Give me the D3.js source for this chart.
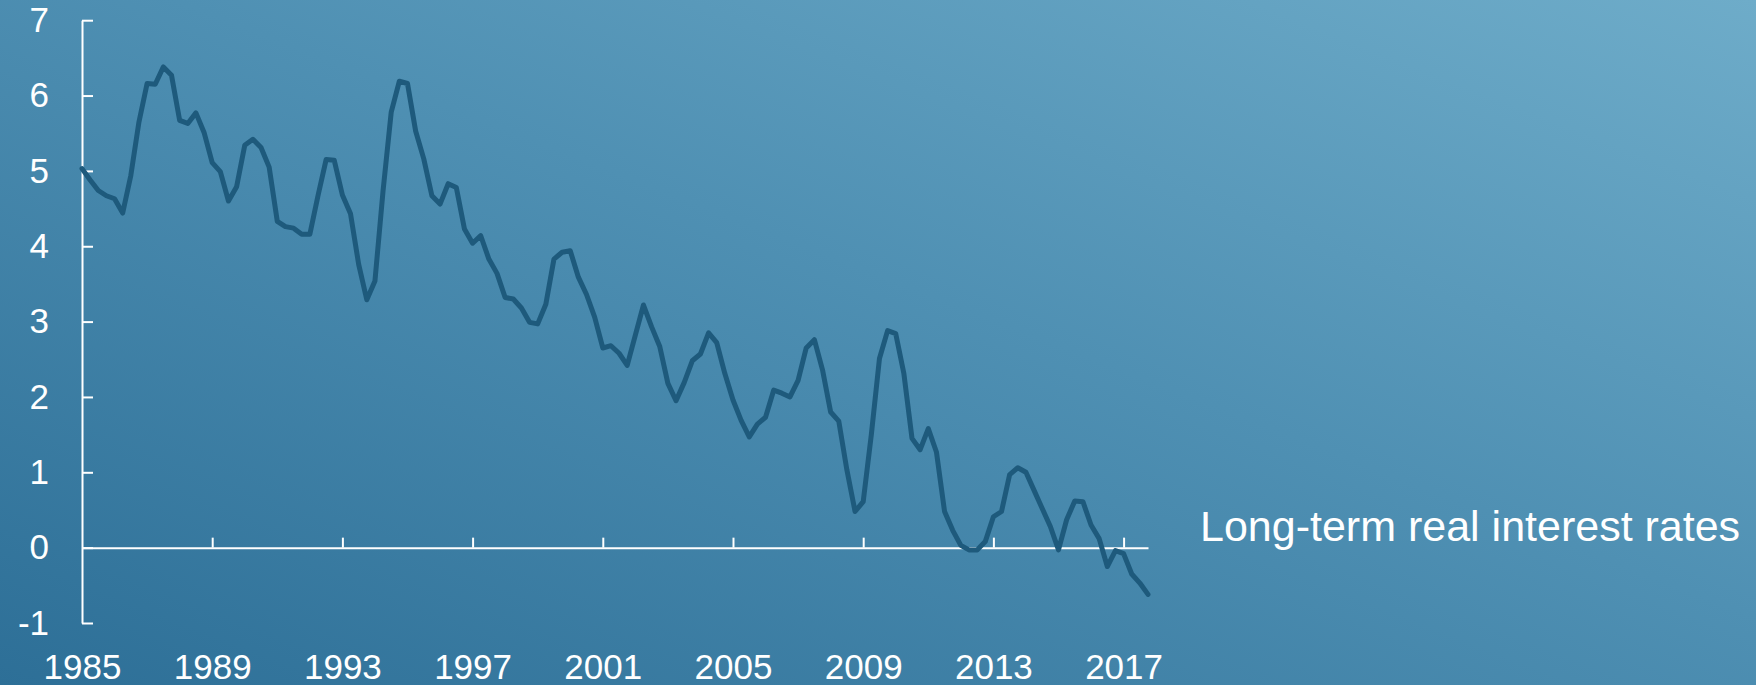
<!DOCTYPE html>
<html>
<head>
<meta charset="utf-8">
<script src="https://cdn.jsdelivr.net/npm/d3@7"></script>
<style>
  html, body { margin: 0; padding: 0; overflow: hidden; }
  svg { display: block; font-family: "Liberation Sans", Arial, sans-serif; }
</style>
</head>
<body>
<svg id="chart" width="1756" height="685"></svg>
<script>
// ---- Data (quarterly, starting 1985 Q1) ----
const startYear = 1985;
const seriesLabel = "Long-term real interest rates";
const rates = [
  5.03, 4.88, 4.74, 4.67, 4.63, 4.44, 4.94, 5.65, 6.16, 6.15, 6.38, 6.27,
  5.67, 5.63, 5.77, 5.51, 5.11, 4.99, 4.60, 4.79, 5.34, 5.42, 5.31, 5.05,
  4.33, 4.26, 4.24, 4.16, 4.16, 4.67, 5.15, 5.14, 4.68, 4.43, 3.76, 3.29,
  3.54, 4.74, 5.78, 6.19, 6.16, 5.53, 5.16, 4.67, 4.56, 4.83, 4.78, 4.23,
  4.04, 4.14, 3.83, 3.64, 3.32, 3.30, 3.18, 2.99, 2.97, 3.23, 3.83, 3.92,
  3.94, 3.59, 3.36, 3.06, 2.65, 2.68, 2.58, 2.42, 2.82, 3.22, 2.93, 2.67,
  2.18, 1.95, 2.19, 2.48, 2.57, 2.85, 2.72, 2.31, 1.96, 1.69, 1.47, 1.64,
  1.73, 2.09, 2.05, 2.00, 2.22, 2.65, 2.76, 2.36, 1.80, 1.68, 1.03, 0.48,
  0.61, 1.50, 2.51, 2.88, 2.84, 2.31, 1.45, 1.30, 1.58, 1.27, 0.48, 0.23,
  0.03, -0.03, -0.03, 0.08, 0.41, 0.48, 0.97, 1.06, 1.00, 0.76, 0.52, 0.28,
  -0.03, 0.37, 0.62, 0.61, 0.30, 0.12, -0.25, -0.04, -0.08, -0.35, -0.47, -0.62
];
const xTickYears = [1985, 1989, 1993, 1997, 2001, 2005, 2009, 2013, 2017];
const yTickValues = [-1, 0, 1, 2, 3, 4, 5, 6, 7];

// ---- Layout ----
const W = 1756, H = 685;
const svg = d3.select("#chart");

// background gradient
const defs = svg.append("defs");
const grad = defs.append("linearGradient")
  .attr("id", "bg")
  .attr("x1", "0").attr("y1", "1")
  .attr("x2", "1").attr("y2", "0");
grad.append("stop").attr("offset", "0%").attr("stop-color", "#2d6f97");
grad.append("stop").attr("offset", "55%").attr("stop-color", "#4f90b3");
grad.append("stop").attr("offset", "100%").attr("stop-color", "#6eacc9");
svg.append("rect").attr("width", W).attr("height", H).attr("fill", "url(#bg)");

const points = rates.map((v, i) => ({ t: startYear + i / 4, v }));
const lastT = points[points.length - 1].t;

const x = d3.scaleLinear().domain([startYear, lastT]).range([82, 1148]);
const y = d3.scaleLinear().domain([-1, 7]).range([623, 20.2]);

const fmt = d => String(d);

// Y axis
const yAxis = d3.axisLeft(y)
  .tickValues(yTickValues)
  .tickFormat(fmt)
  .tickSizeInner(-11)
  .tickSizeOuter(0)
  .tickPadding(33);
const gy = svg.append("g").attr("transform", `translate(${x(startYear)},0)`).call(yAxis);
gy.select(".domain").attr("stroke", "#ffffff").attr("stroke-width", 2);
gy.selectAll(".tick line").attr("stroke", "#ffffff").attr("stroke-width", 2);
gy.selectAll(".tick text")
  .attr("fill", "#ffffff")
  .attr("font-size", 35)
  .attr("font-family", "Liberation Sans, Arial, sans-serif");

// X axis at zero line, ticks pointing up, labels at bottom
const xAxis = d3.axisBottom(x)
  .tickValues(xTickYears)
  .tickFormat(fmt)
  .tickSizeInner(-10)
  .tickSizeOuter(0);
const gx = svg.append("g").attr("transform", `translate(0,${y(0)})`).call(xAxis);
gx.select(".domain").attr("stroke", "#ffffff").attr("stroke-width", 2);
gx.selectAll(".tick line").attr("stroke", "#ffffff").attr("stroke-width", 2);
gx.selectAll(".tick").filter(d => d === startYear).select("line").remove();
gx.selectAll(".tick text")
  .attr("fill", "#ffffff")
  .attr("font-size", 35)
  .attr("font-family", "Liberation Sans, Arial, sans-serif")
  .attr("y", 679 - y(0))
  .attr("dy", "0");

// Line
const line = d3.line().x(d => x(d.t)).y(d => y(d.v));
svg.append("path")
  .datum(points)
  .attr("d", line)
  .attr("fill", "none")
  .attr("stroke", "#1e5a7c")
  .attr("stroke-width", 5)
  .attr("stroke-linejoin", "round")
  .attr("stroke-linecap", "round");

// Series label
svg.append("text")
  .attr("x", 1200)
  .attr("y", 541)
  .attr("fill", "#ffffff")
  .attr("font-size", 43)
  .attr("font-family", "Liberation Sans, Arial, sans-serif")
  .text(seriesLabel);
</script>
</body>
</html>
